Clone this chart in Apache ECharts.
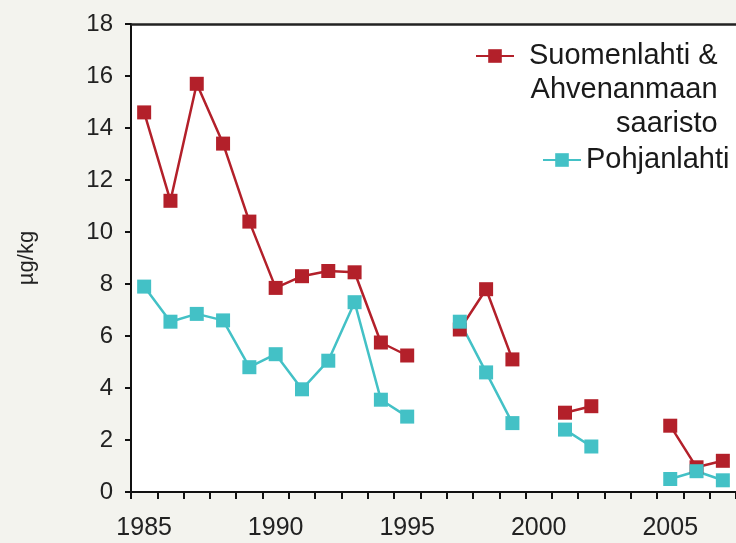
<!DOCTYPE html>
<html>
<head>
<meta charset="utf-8">
<script src="https://cdn.jsdelivr.net/npm/echarts@6/dist/echarts.min.js"></script>
<style>
html,body{margin:0;padding:0;background:#f3f3ee;}
#c{width:736px;height:543px;}
</style>
</head>
<body>
<div id="c"></div>
<script>
const years = ['1985','1986','1987','1988','1989','1990','1991','1992','1993','1994','1995','1996','1997','1998','1999','2000','2001','2002','2003','2004','2005','2006','2007'];
const suomenlahti = [14.6,11.2,15.7,13.4,10.4,7.85,8.3,8.5,8.45,5.75,5.25,null,6.25,7.8,5.1,null,3.05,3.3,null,null,2.55,0.95,1.2];
const pohjanlahti = [7.9,6.55,6.85,6.6,4.8,5.3,3.95,5.05,7.3,3.55,2.9,null,6.55,4.6,2.65,null,2.4,1.75,null,null,0.5,0.8,0.45];
const yTicks = {min:0, max:18, step:2};
const nameSuomi = 'Suomenlahti & Ahvenanmaan saaristo';
const namePohja = 'Pohjanlahti';
const yName = 'µg/kg';

const red = '#b3202a';
const cyan = '#43c1c6';
const font = "'Liberation Sans', Arial, sans-serif";

const chart = echarts.init(document.getElementById('c'));
chart.setOption({
  backgroundColor: '#f3f3ee',
  animation: false,
  grid: {left:131, right:-1, top:24, bottom:51, show:true, backgroundColor:'#ffffff', borderWidth:0},
  legend: [
    {
      data:[nameSuomi], left:470, top:-34, itemWidth:38, itemHeight:17,
      formatter: function(){ return '{a|Suomenlahti &}\n{a|Ahvenanmaan}\n{a|saaristo}'; },
      textStyle:{fontFamily:font, fontSize:29, color:'#1a1a1a', lineHeight:34, padding:[68,0,0,10],
        rich:{a:{align:'right', fontFamily:font, fontSize:29, lineHeight:34, color:'#1a1a1a'}}},
      selectedMode:false
    },
    {
      data:[namePohja], left:537, top:138, itemWidth:38, itemHeight:17,
      textStyle:{fontFamily:font, fontSize:29, color:'#1a1a1a', lineHeight:34, padding:[0,0,0,0]},
      selectedMode:false
    }
  ],
  xAxis: [
    {
      type:'category', data:years, boundaryGap:true,
      axisLine:{lineStyle:{color:'#111', width:2}},
      axisTick:{show:true, interval:0, length:7, lineStyle:{color:'#111', width:2}},
      axisLabel:{interval:function(i){return i%5===0;}, fontFamily:font, fontSize:25, color:'#222', margin:24}
    },
    {
      type:'category', data:years, position:'top', boundaryGap:true,
      axisLine:{lineStyle:{color:'#222', width:2.5}},
      axisTick:{show:false}, axisLabel:{show:false}
    }
  ],
  yAxis: {
    type:'value', min:yTicks.min, max:yTicks.max, interval:yTicks.step,
    name:yName, nameLocation:'middle', nameGap:93, nameRotate:90,
    nameTextStyle:{fontFamily:font, fontSize:22, color:'#222'},
    axisLine:{show:true, lineStyle:{color:'#111', width:2}},
    axisTick:{show:true, length:6, lineStyle:{color:'#111', width:2}},
    axisLabel:{fontFamily:font, fontSize:24, color:'#222', margin:18},
    splitLine:{show:false}
  },
  series: [
    {name:nameSuomi, type:'line', data:suomenlahti, connectNulls:false, symbol:'rect', symbolSize:14,
      itemStyle:{color:red}, lineStyle:{color:red, width:2.5}},
    {name:namePohja, type:'line', data:pohjanlahti, connectNulls:false, symbol:'rect', symbolSize:14,
      itemStyle:{color:cyan}, lineStyle:{color:cyan, width:2.5}}
  ]
});
</script>
</body>
</html>
